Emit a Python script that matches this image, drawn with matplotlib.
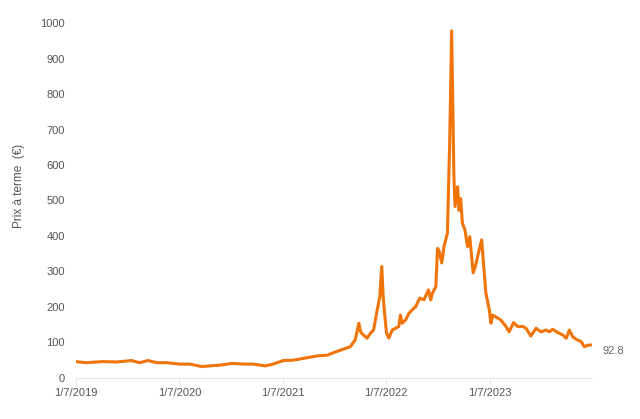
import matplotlib.pyplot as plt
import matplotlib.dates as mdates
import pandas as pd

# Forward price series (date, €)
dates = [
    "2019-01-07", "2019-02-11", "2019-04-10", "2019-05-30", "2019-07-22", "2019-08-19",
    "2019-09-17", "2019-10-19", "2019-11-23", "2020-01-08", "2020-02-13", "2020-03-26",
    "2020-04-24", "2020-05-29", "2020-07-11", "2020-08-19", "2020-09-23", "2020-11-05",
    "2020-12-03", "2021-01-08", "2021-02-12", "2021-03-19", "2021-05-08", "2021-06-12",
    "2021-07-04", "2021-08-08", "2021-09-02", "2021-09-19", "2021-10-02", "2021-10-08",
    "2021-10-18", "2021-10-31", "2021-11-12", "2021-11-23", "2021-12-06", "2021-12-15",
    "2021-12-22", "2021-12-27", "2022-01-01", "2022-01-08", "2022-01-16", "2022-01-28",
    "2022-02-09", "2022-02-20", "2022-02-26", "2022-03-04", "2022-03-16", "2022-03-28",
    "2022-04-09", "2022-04-21", "2022-05-05", "2022-05-20", "2022-06-05", "2022-06-13",
    "2022-06-19", "2022-07-01", "2022-07-07", "2022-07-12", "2022-07-22", "2022-07-30",
    "2022-08-05", "2022-08-11", "2022-08-19", "2022-08-26", "2022-09-03", "2022-09-07",
    "2022-09-16", "2022-09-21", "2022-09-27", "2022-10-03", "2022-10-12", "2022-10-21",
    "2022-10-29", "2022-11-10", "2022-11-19", "2022-12-01", "2022-12-10", "2022-12-17",
    "2022-12-25", "2023-01-06", "2023-01-12", "2023-01-18", "2023-01-29", "2023-02-16",
    "2023-03-06", "2023-03-17", "2023-04-02", "2023-04-16", "2023-05-04", "2023-05-16",
    "2023-06-02", "2023-06-20", "2023-07-08", "2023-07-26", "2023-08-06", "2023-08-18",
    "2023-09-05", "2023-09-23", "2023-10-05", "2023-10-16", "2023-10-28", "2023-11-09",
    "2023-11-27", "2023-12-08", "2023-12-20", "2024-01-01",
]
prices = [
    46, 43, 46, 45, 49, 43,
    49, 43, 43, 39, 39, 32,
    34, 36, 41, 39, 39, 34,
    39, 49, 50, 55, 62, 64,
    71, 81, 88, 107, 154, 130,
    121, 112, 126, 135, 192, 229,
    314, 229, 182, 126, 112, 135,
    140, 145, 177, 154, 163, 182,
    192, 201, 225, 220, 248, 220,
    239, 257, 365, 360, 324, 370,
    389, 408, 662, 978, 567, 483,
    539, 472, 505, 436, 417, 370,
    398, 296, 318, 360, 389, 318,
    239, 192, 154, 177, 172, 163,
    145, 130, 156, 145, 145, 140,
    118, 140, 130, 135, 130, 137,
    128, 121, 112, 135, 116, 109,
    102, 88, 92, 92.8,
]
tick_dates = ["2019-01-07", "2020-01-07", "2021-01-07", "2022-01-07", "2023-01-07"]
last_label = "92.8"

plt.rcParams['font.family'] = ['Liberation Sans', 'DejaVu Sans']

x = pd.to_datetime(dates)
fig = plt.figure(figsize=(6.4, 4.19), dpi=100)
ax = fig.add_axes([0.119, 0.098, 0.806, 0.847])

ax.plot(x, prices, color='#f07408', linewidth=2.2, solid_joinstyle='round')

ax.set_ylim(0, 1000)
ax.set_xlim(pd.Timestamp("2019-01-07"), pd.Timestamp("2024-01-04"))
ax.set_yticks(range(0, 1001, 100))
ax.set_xticks(pd.to_datetime(tick_dates))
ax.xaxis.set_major_formatter(mdates.DateFormatter('%-m/%-d/%Y'))

for s in ['top', 'right', 'left']:
    ax.spines[s].set_visible(False)
ax.spines['bottom'].set_color('#e6e6e6')
ax.tick_params(axis='y', length=0, pad=8, labelsize=8, labelcolor='#555555')
ax.tick_params(axis='x', length=4, color='#e6e6e6', pad=3, labelsize=8, labelcolor='#555555')

ax.set_ylabel('Prix à terme  (€)', fontsize=8.5, color='#555555')
ax.yaxis.set_label_coords(-0.1, 0.54)
ax.annotate(last_label, xy=(x[-1], prices[-1]), xytext=(8, -4), textcoords='offset points',
            fontsize=8, color='#666666', va='center', ha='left', annotation_clip=False)

fig.savefig('out.png', dpi=100)
